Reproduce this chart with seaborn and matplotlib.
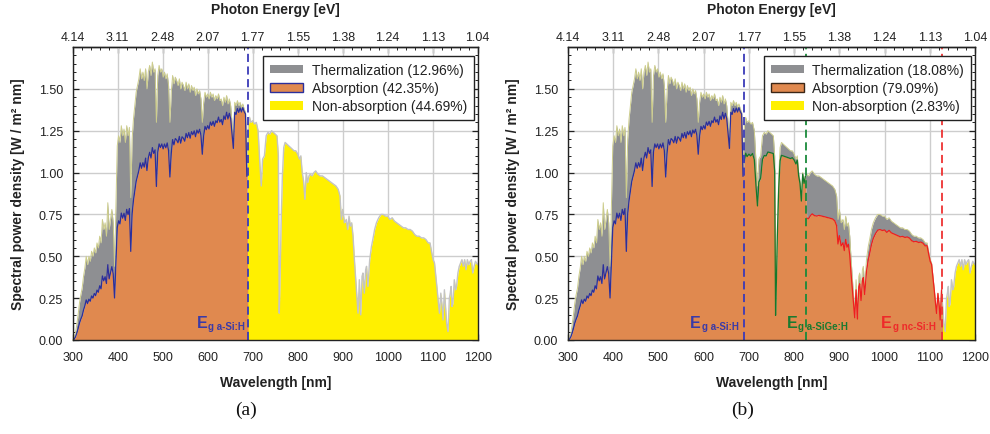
import numpy as np
import matplotlib
matplotlib.use("Agg")
import matplotlib.pyplot as plt
from matplotlib.patches import Rectangle, Patch
from matplotlib.ticker import MultipleLocator, FormatStrFormatter
import seaborn as sns

# AM1.5G-like solar spectrum, wavelength [nm] and spectral power density [W / m^2 nm]
wavelength = [
    300, 303, 306, 309, 312, 315, 318, 321, 324, 327, 330, 333, 336, 339, 342, 345, 348, 351, 354, 357,
    360, 363, 366, 369, 372, 375, 378, 381, 384, 387, 390, 393, 396, 399, 402, 405, 408, 411, 414, 417,
    420, 423, 426, 429, 432, 435, 438, 441, 444, 447, 450, 453, 456, 459, 462, 465, 468, 471, 474, 477,
    480, 483, 486, 489, 492, 495, 498, 501, 504, 507, 510, 513, 516, 519, 522, 525, 528, 531, 534, 537,
    540, 543, 546, 549, 552, 555, 558, 561, 564, 567, 570, 573, 576, 579, 582, 585, 588, 591, 594, 597,
    600, 603, 606, 609, 612, 615, 618, 621, 624, 627, 630, 633, 636, 639, 642, 645, 648, 651, 654, 657,
    660, 663, 666, 669, 672, 675, 678, 681, 684, 687, 690, 693, 696, 700, 704, 708, 712, 716, 719, 722,
    726, 730, 734, 738, 742, 746, 750, 754, 757, 759, 761, 763, 766, 769, 772, 776, 780, 784, 788, 792,
    796, 800, 804, 807, 810, 813, 816, 819, 822, 825, 828, 832, 836, 840, 845, 850, 855, 860, 865, 870,
    875, 880, 885, 890, 894, 897, 900, 904, 908, 911, 914, 917, 920, 923, 926, 929, 931, 934, 937, 940,
    943, 945, 948, 951, 953, 956, 960, 964, 967, 971, 975, 980, 985, 990, 995, 1000, 1005, 1010, 1015, 1020,
    1025, 1030, 1035, 1040, 1045, 1050, 1055, 1060, 1065, 1070, 1075, 1080, 1085, 1090, 1094, 1098, 1101, 1104, 1107, 1110,
    1112, 1115, 1118, 1121, 1123, 1126, 1129, 1131, 1134, 1137, 1139, 1141, 1143, 1145, 1148, 1151, 1153, 1156, 1159, 1162,
    1165, 1168, 1171, 1174, 1177, 1180, 1183, 1186, 1189, 1192, 1195, 1200,
]
spectral_power = [
    0.00, 0.01, 0.04, 0.09, 0.15, 0.22, 0.27, 0.31, 0.38, 0.43, 0.50, 0.45, 0.50, 0.47, 0.53, 0.50, 0.55, 0.52, 0.58, 0.55,
    0.62, 0.58, 0.72, 0.66, 0.70, 0.62, 0.82, 0.66, 0.72, 0.78, 0.70, 0.44, 0.80, 1.16, 1.22, 1.18, 1.28, 1.22, 1.26, 1.18,
    1.28, 1.22, 1.27, 0.85, 1.20, 1.32, 1.40, 1.48, 1.52, 1.56, 1.62, 1.56, 1.60, 1.55, 1.62, 1.50, 1.60, 1.64, 1.58, 1.66,
    1.60, 1.62, 1.30, 1.58, 1.64, 1.60, 1.62, 1.57, 1.60, 1.56, 1.59, 1.52, 1.30, 1.48, 1.58, 1.53, 1.57, 1.55, 1.52, 1.56,
    1.50, 1.54, 1.52, 1.49, 1.54, 1.50, 1.53, 1.48, 1.52, 1.49, 1.51, 1.46, 1.50, 1.47, 1.49, 1.44, 1.30, 1.42, 1.48, 1.45,
    1.47, 1.44, 1.48, 1.45, 1.47, 1.43, 1.46, 1.44, 1.47, 1.43, 1.44, 1.40, 1.45, 1.42, 1.46, 1.41, 1.44, 1.40, 1.30, 1.20,
    1.42, 1.40, 1.43, 1.40, 1.42, 1.39, 1.41, 1.38, 1.36, 0.98, 1.28, 1.33, 1.30, 1.31, 1.29, 1.30, 1.25, 1.05, 0.92, 1.08,
    1.10, 1.22, 1.24, 1.23, 1.25, 1.24, 1.23, 1.22, 1.10, 0.16, 0.40, 0.68, 0.98, 1.15, 1.18, 1.17, 1.16, 1.15, 1.14, 1.13,
    1.13, 1.11, 1.08, 1.10, 1.00, 0.95, 0.84, 1.00, 0.94, 0.98, 0.99, 0.98, 1.00, 1.01, 0.99, 0.98, 0.98, 0.97, 0.96, 0.95,
    0.94, 0.93, 0.92, 0.90, 0.86, 0.72, 0.78, 0.70, 0.72, 0.66, 0.74, 0.68, 0.70, 0.62, 0.48, 0.36, 0.28, 0.16, 0.36, 0.15,
    0.38, 0.40, 0.28, 0.42, 0.44, 0.32, 0.48, 0.56, 0.60, 0.66, 0.70, 0.73, 0.75, 0.75, 0.74, 0.74, 0.72, 0.73, 0.71, 0.70,
    0.69, 0.68, 0.67, 0.67, 0.66, 0.66, 0.65, 0.63, 0.62, 0.62, 0.61, 0.61, 0.60, 0.58, 0.58, 0.52, 0.48, 0.46, 0.38, 0.30,
    0.24, 0.16, 0.28, 0.20, 0.12, 0.30, 0.18, 0.10, 0.05, 0.25, 0.28, 0.32, 0.20, 0.22, 0.36, 0.30, 0.32, 0.40, 0.44, 0.46,
    0.48, 0.44, 0.48, 0.42, 0.48, 0.45, 0.47, 0.48, 0.40, 0.44, 0.47, 0.45,
]

wavelength_ticks = [300, 400, 500, 600, 700, 800, 900, 1000, 1100, 1200]
energy_labels = ["4.14", "3.11", "2.48", "2.07", "1.77", "1.55", "1.38", "1.24", "1.13", "1.04"]
density_ticks = [0.00, 0.25, 0.50, 0.75, 1.00, 1.25, 1.50]

# (a) single junction a-Si:H, (b) triple junction a-Si:H / a-SiGe:H / nc-Si:H
gaps_a = [689]
gap_names_a = ["a-Si:H"]
label_x_a = [576]
shares_a = [12.96, 42.35, 44.69]

gaps_b = [689, 826, 1126]
gap_names_b = ["a-Si:H", "a-SiGe:H", "nc-Si:H"]
label_x_b = [570, 784, 992]
shares_b = [18.08, 79.09, 2.83]

GRAY = "#8e8f92"
ORANGE = "#e0894f"
YELLOW = "#fff000"
KHAKI = "#cdcd8c"
EDGE_GRAY = "#c4c4c4"
GRID = "#cdcdcd"
INK = "#222222"
LINE_COLORS = ["#2b2f9c", "#15782b", "#ee1f1f"]
DASH_COLORS = ["#3a3ab8", "#1a8a3a", "#ee3333"]
LABEL_COLORS = ["#3a3aa8", "#1a7a30", "#ee2a2a"]

sns.set_theme(style="white")
plt.rcParams["font.family"] = ["Liberation Sans", "DejaVu Sans"]
plt.rcParams["axes.linewidth"] = 1.0

fig = plt.figure(figsize=(9.9, 4.35), dpi=100)
ax_a = fig.add_axes([72.7 / 990, 1 - 341 / 435, 405 / 990, 293 / 435])
ax_b = fig.add_axes([568 / 990, 1 - 341 / 435, 407 / 990, 293 / 435])


def absorbed_power(wl, p, gaps):
    """Photons above a gap deliver only the gap energy: P * lambda / lambda_g."""
    out = np.zeros_like(p)
    seg = np.full(wl.shape, -1)
    lower = 0.0
    for i, g in enumerate(gaps):
        m = (wl > lower) & (wl <= g)
        out[m] = p[m] * wl[m] / g
        seg[m] = i
        lower = g
    return out, seg


def draw_panel(ax, gaps, names, label_x, shares, patch_edge):
    wl = np.asarray(wavelength, float)
    p = np.asarray(spectral_power, float)
    ab, seg = absorbed_power(wl, p, gaps)
    last = gaps[-1]

    ax.set_xlim(300, 1200)
    ax.set_ylim(0, 1.75)
    ax.set_axisbelow(True)

    inside = Rectangle((250, -1), last - 250, 4, transform=ax.transData)
    outside = Rectangle((last, -1), 1300 - last, 4, transform=ax.transData)

    th = ax.fill_between(wl, ab, p, facecolor=GRAY, lw=0, zorder=2)
    th.set_clip_path(inside)
    ab_fill = ax.fill_between(wl, 0, ab, facecolor=ORANGE, lw=0, zorder=3)
    ab_fill.set_clip_path(inside)
    na = ax.fill_between(wl, 0, p, facecolor=YELLOW, lw=0, zorder=2)
    na.set_clip_path(outside)

    top1, = ax.plot(wl, p, color=KHAKI, lw=0.7, zorder=2.5)
    top1.set_clip_path(inside)
    top2, = ax.plot(wl, p, color=EDGE_GRAY, lw=1.0, zorder=2.5)
    top2.set_clip_path(outside)

    for i, g in enumerate(gaps):
        m = seg == i
        sns.lineplot(x=wl[m], y=ab[m], ax=ax, color=LINE_COLORS[i], lw=0.9,
                     estimator=None, sort=False, zorder=4)
        ax.axvline(g, color=DASH_COLORS[i], lw=1.3, ls=(0, (4.5, 2.5)), zorder=5)
        e = ax.text(label_x[i], 0.075, "E", color=LABEL_COLORS[i], fontsize=11.5,
                    fontweight="bold", ha="left", va="baseline", zorder=6)
        ax.annotate("g " + names[i], xy=(1, 0), xycoords=e, xytext=(0.6, 0.8),
                    textcoords="offset points", ha="left", va="baseline",
                    color=LABEL_COLORS[i], fontsize=7, fontweight="bold", zorder=6)

    # axes, ticks and grid
    ax.set_xticks(wavelength_ticks)
    ax.set_yticks(density_ticks)
    ax.yaxis.set_major_formatter(FormatStrFormatter("%.2f"))
    ax.xaxis.set_minor_locator(MultipleLocator(20))
    ax.yaxis.set_minor_locator(MultipleLocator(0.05))
    ax.grid(True, which="major", color=GRID, lw=1.0)
    ax.tick_params(which="both", direction="in", top=False, right=True, left=True,
                   bottom=True, colors=INK, labelcolor=INK)
    ax.tick_params(which="major", length=4, width=0.9, labelsize=9)
    ax.tick_params(which="minor", length=2.2, width=0.7)
    ax.tick_params(axis="x", which="major", pad=8)
    ax.tick_params(axis="y", which="major", pad=7)
    for s in ax.spines.values():
        s.set_color(INK)
        s.set_linewidth(1.0)
        s.set_zorder(7)

    sec = ax.secondary_xaxis("top")
    sec.set_xticks(wavelength_ticks, labels=energy_labels)
    sec.xaxis.set_minor_locator(MultipleLocator(20))
    sec.tick_params(which="both", direction="in", colors=INK, labelcolor=INK)
    sec.tick_params(which="major", length=4, width=0.9, labelsize=9, pad=3)
    sec.tick_params(which="minor", length=2.2, width=0.7)
    sec.spines["top"].set_color(INK)

    ax.set_xlabel("Wavelength [nm]", fontsize=10, fontweight="bold", color=INK)
    ax.xaxis.set_label_coords(0.5, -0.12)
    ax.set_ylabel("Spectral power density [W / m² nm]", fontsize=10, fontweight="bold",
                  color=INK)
    ax.yaxis.set_label_coords(-0.118, 0.5)

    handles = [
        Patch(facecolor=GRAY, edgecolor="none"),
        Patch(facecolor=ORANGE, edgecolor=patch_edge, lw=1.0),
        Patch(facecolor=YELLOW, edgecolor="none"),
    ]
    labels = [f"Thermalization ({shares[0]:.2f}%)",
              f"Absorption ({shares[1]:.2f}%)",
              f"Non-absorption ({shares[2]:.2f}%)"]
    leg = ax.legend(handles, labels, loc="upper right",
                    bbox_to_anchor=(1 - 4 / 405, 1 - 9 / 293), borderaxespad=0,
                    fontsize=10, frameon=True, fancybox=False, framealpha=1,
                    edgecolor=INK, handlelength=2.4, handleheight=0.6,
                    handletextpad=0.6, labelspacing=0.3, borderpad=0.5)
    leg.get_frame().set_linewidth(1.0)
    leg.set_zorder(8)
    for t in leg.get_texts():
        t.set_color(INK)


draw_panel(ax_a, gaps_a, gap_names_a, label_x_a, shares_a, LINE_COLORS[0])
draw_panel(ax_b, gaps_b, gap_names_b, label_x_b, shares_b, "#3b2616")

# photon energy axis titles above each panel
for left, width in [(72.7, 405), (568, 407)]:
    fig.text((left + width / 2) / 990, 1 - 10 / 435, "Photon Energy [eV]", fontsize=10,
             fontweight="bold", color=INK, ha="center", va="center")

fig.text(246 / 990, 1 - 410 / 435, "(a)", family="Liberation Serif", fontsize=14,
         ha="center", va="center", color="#111111")
fig.text(743 / 990, 1 - 410 / 435, "(b)", family="Liberation Serif", fontsize=14,
         ha="center", va="center", color="#111111")

fig.savefig("out.png", dpi=100)
